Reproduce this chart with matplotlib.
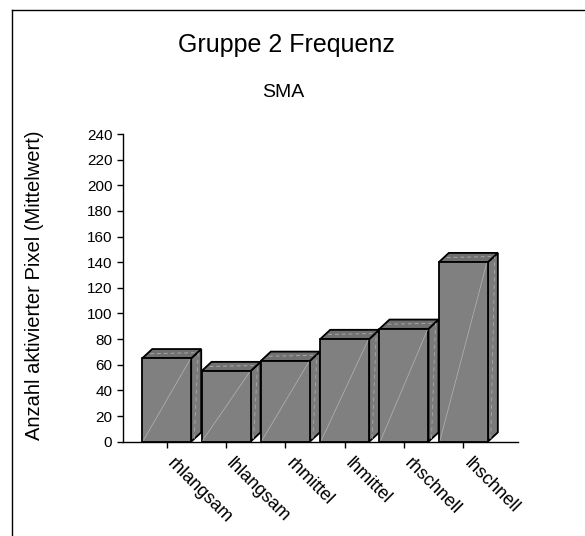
import numpy as np
import matplotlib.pyplot as plt
from matplotlib.patches import Polygon

plt.rcParams['font.family'] = ['Liberation Sans', 'DejaVu Sans']

categories = ['rhlangsam', 'lhlangsam', 'rhmittel', 'lhmittel', 'rhschnell', 'lhschnell']
values = [65, 55, 63, 80, 88, 140]
yticks = np.arange(0, 241, 20)

fig = plt.figure(figsize=(5.85, 5.36), dpi=100)
ax = fig.add_axes([0.2097, 0.176, 0.676, 0.574])

# 3d look: offset of back face in data units
w = 0.826
dx = 0.169
dy = 7.25

for i, v in enumerate(values):
    x0 = i - w / 2
    x1 = i + w / 2
    front = Polygon([(x0, 0), (x1, 0), (x1, v), (x0, v)], closed=True,
                    facecolor='#808080', edgecolor='black', lw=1.3, zorder=3)
    top = Polygon([(x0, v), (x1, v), (x1 + dx, v + dy), (x0 + dx, v + dy)], closed=True,
                  facecolor='#707070', edgecolor='black', lw=1.3, zorder=3, clip_on=False)
    side = Polygon([(x1, 0), (x1 + dx, dy), (x1 + dx, v + dy), (x1, v)], closed=True,
                   facecolor='#7a7a7a', edgecolor='black', lw=1.3, zorder=3)
    ax.add_patch(side)
    ax.add_patch(top)
    ax.add_patch(front)
    # faint highlight lines
    ax.plot([x0 + 0.02, x1 - 0.02], [1, v - 1], color='#b5b5b5', lw=0.5, zorder=4)
    ax.plot([x0 + dx * 0.5 + 0.05, x1 + dx * 0.5 - 0.03], [v + dy * 0.5, v + dy * 0.6],
            color='#a8a8a8', lw=0.7, ls=(0, (4, 3)), zorder=4, clip_on=False)
    ax.plot([x1 + dx * 0.3, x1 + dx * 0.7], [dy * 0.3, v + dy * 0.6],
            color='#a8a8a8', lw=0.6, ls=(0, (5, 4)), zorder=4)

ax.set_xlim(-0.742, 5.924)
ax.set_ylim(0, 240)
ax.set_yticks(yticks)
ax.set_yticklabels([str(t) for t in yticks], fontsize=11)
ax.set_xticks(range(len(categories)))
ax.set_xticklabels(categories, fontsize=13, rotation=-45, ha='left', va='baseline',
                   rotation_mode='anchor')
ax.tick_params(axis='both', direction='out', length=4, width=1, color='black')
ax.tick_params(axis='x', pad=12)
for s in ['top', 'right']:
    ax.spines[s].set_visible(False)
for s in ['left', 'bottom']:
    ax.spines[s].set_linewidth(1)

ax.set_ylabel('Anzahl aktivierter Pixel (Mittelwert)', fontsize=14.5)
ax.yaxis.set_label_coords(-0.2, 0.51)

fig.text(0.489, 0.916, 'Gruppe 2 Frequenz', fontsize=18, ha='center', va='center')
fig.text(0.485, 0.828, 'SMA', fontsize=14, ha='center', va='center')

# outer frame (top and left edges visible)
fig.add_artist(plt.Line2D([0.0205, 1.0], [0.9813, 0.9813], color='black', lw=1,
                          transform=fig.transFigure))
fig.add_artist(plt.Line2D([0.0205, 0.0205], [0.0, 0.9813], color='black', lw=1,
                          transform=fig.transFigure))

fig.savefig('out.png', dpi=100)
